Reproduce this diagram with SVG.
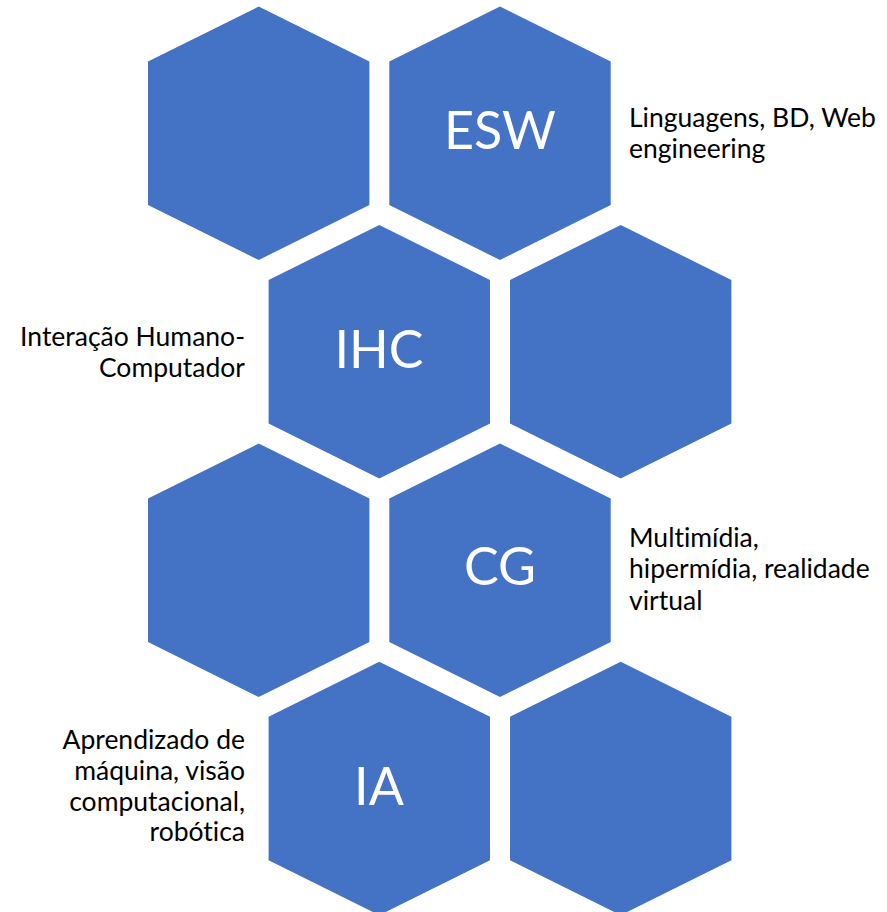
<svg xmlns="http://www.w3.org/2000/svg" xmlns:xlink="http://www.w3.org/1999/xlink" width="887" height="912" viewBox="0 0 887 912">
<style>
.hex{fill:#4472C4;}
.hl{font-family:Lato,"Open Sans",sans-serif;font-size:52px;fill:#FFFFFF;text-anchor:middle;}
.side{font-family:Lato,"Open Sans",sans-serif;font-size:26.5px;fill:#000000;font-variant-ligatures:none;}
.r{text-anchor:end;}
</style>
<defs>
<polygon id="hx" points="0,-126.7 110.7,-71.7 110.7,71.7 0,126.7 -110.7,71.7 -110.7,-71.7"/>
</defs>
<rect width="887" height="912" fill="#FFFFFF"/>
<g id="hex-r1-a"><use xlink:href="#hx" class="hex" transform="translate(258.7,133.3)"/></g>
<g id="hex-esw"><use xlink:href="#hx" class="hex" transform="translate(500,133.3)"/><text class="hl" x="500" y="149">ESW</text></g>
<g id="hex-ihc"><use xlink:href="#hx" class="hex" transform="translate(379.3,351.7)"/><text class="hl" x="379" y="368">IHC</text></g>
<g id="hex-r2-b"><use xlink:href="#hx" class="hex" transform="translate(620.7,351.7)"/></g>
<g id="hex-r3-a"><use xlink:href="#hx" class="hex" transform="translate(258.7,570.3)"/></g>
<g id="hex-cg"><use xlink:href="#hx" class="hex" transform="translate(500,570.3)"/><text class="hl" x="500" y="585">CG</text></g>
<g id="hex-ia"><use xlink:href="#hx" class="hex" transform="translate(379.3,788.5)"/><text class="hl" x="379" y="805">IA</text></g>
<g id="hex-r4-b"><use xlink:href="#hx" class="hex" transform="translate(620.7,788.5)"/></g>
<g id="label-esw"><text class="side" x="629" y="126.7">Linguagens, BD, Web</text><text class="side" x="629" y="158">engineering</text></g>
<g id="label-ihc"><text class="side r" x="245" y="346">Interação Humano-</text><text class="side r" x="245" y="377">Computador</text></g>
<g id="label-cg"><text class="side" x="629" y="546.7">Multimídia,</text><text class="side" x="629" y="578.3">hipermídia, realidade</text><text class="side" x="629" y="610">virtual</text></g>
<g id="label-ia"><text class="side r" x="245" y="749.3">Aprendizado de</text><text class="side r" x="245" y="780">máquina, visão</text><text class="side r" x="245" y="810.7">computacional,</text><text class="side r" x="245" y="840.7">robótica</text></g>
<g id="connectors"></g>
</svg>
